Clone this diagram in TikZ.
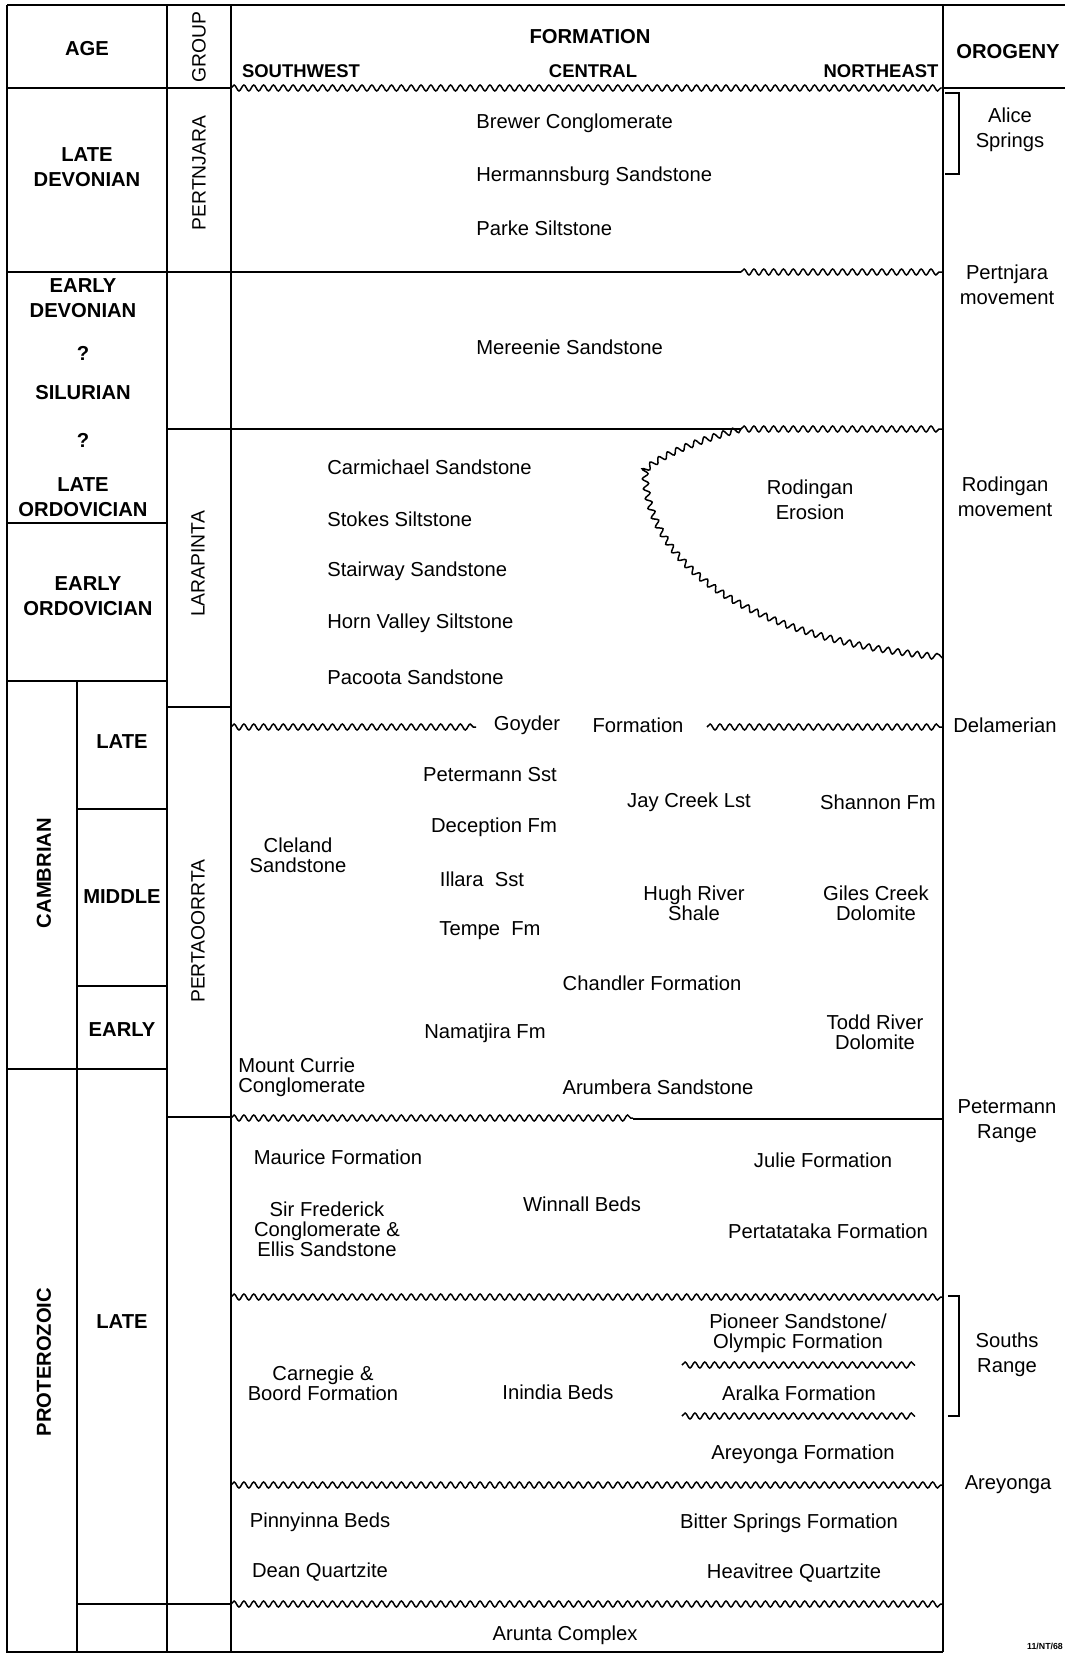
\documentclass[tikz,border=0pt]{standalone}
\usepackage{fontspec}
\setmainfont{Liberation Sans}
\usetikzlibrary{decorations.pathmorphing}

\tikzset{
  rule/.style={line width=1.1pt},
  wave/.style={line width=0.85pt, decorate,
    decoration={snake, amplitude=1.7pt, segment length=5.6pt}},
  fm/.style={font=\fontsize{11.5}{11.5}\selectfont, align=center, inner sep=0pt},
  hd/.style={font=\fontsize{11.5}{14.5}\selectfont\bfseries, align=center, inner sep=0pt},
  sub/.style={font=\fontsize{10.5}{12}\selectfont\bfseries, inner sep=0pt},
  oro/.style={font=\fontsize{11.5}{14.5}\selectfont, align=center, inner sep=0pt},
  grp/.style={font=\fontsize{11}{13}\selectfont, rotate=90, inner sep=0pt},
  bracket/.style={line width=0.9pt},
}

\begin{document}
\begin{tikzpicture}[x=0.02cm, y=-0.02cm]
  \useasboundingbox (0,0) rectangle (1065,1653);
  % frame and columns
  \draw[rule] (7,5) -- (1065,5);
  \draw[rule] (7,5) -- (7,1652) -- (943,1652);
  \draw[rule] (167,5) -- (167,1652);
  \draw[rule] (231,5) -- (231,1652);
  \draw[rule] (943,5) -- (943,1652);
  \draw[rule] (77,681) -- (77,1652);
  % header
  \draw[rule] (7,88) -- (231,88);
  \draw[wave] (231,88) -- (943,88);
  \draw[rule] (943,88) -- (1065,88);
  \node[hd] (age) at (87,49) {AGE};
  \node[grp] (grouphd) at (199,47) {GROUP};
  \node[hd] (formhd) at (590,37) {FORMATION};
  \node[sub] (sw) at (301,71) {SOUTHWEST};
  \node[sub] (central) at (593,71) {CENTRAL};
  \node[sub] (ne) at (881,71) {NORTHEAST};
  \node[hd] (orohd) at (1008,52) {OROGENY};
  % age boundaries
  \draw[rule] (7,272) -- (741,272);
  \draw[wave] (741,272) -- (943,272);
  \draw[rule] (167,429) -- (741,429);
  \draw[wave] (741,429) -- (943,429);
  \draw[wave] (741,429) .. controls (700,440) and (660,455) .. (645,472)
    .. controls (645,560) and (740,640) .. (943,658);
  \draw[rule] (7,523) -- (167,523);
  \draw[rule] (7,681) -- (167,681);
  \draw[rule] (167,707) -- (231,707);
  \draw[wave] (231,727) -- (476,727);
  \draw[wave] (707,727) -- (943,727);
  \draw[rule] (77,809) -- (167,809);
  \draw[rule] (77,986) -- (167,986);
  \draw[rule] (7,1069) -- (167,1069);
  \draw[rule] (167,1117) -- (231,1117);
  \draw[wave] (231,1118) -- (633,1118);
  \draw[rule] (633,1119) -- (943,1119);
  \draw[wave] (231,1297) -- (943,1297);
  \draw[wave] (682,1365) -- (915,1365);
  \draw[wave] (682,1416) -- (915,1416);
  \draw[wave] (231,1485) -- (943,1485);
  \draw[rule] (77,1604) -- (231,1604);
  \draw[wave] (231,1604) -- (943,1604);
  % brackets
  \draw[bracket] (945,93) -- (959,93) -- (959,174) -- (945,174);
  \draw[bracket] (948,1296) -- (959,1296) -- (959,1416) -- (948,1416);

  % age column
  \node[hd] (latedev) at (87,167) {LATE\\DEVONIAN};
  \node[hd] (earlydev) at (83,298) {EARLY\\DEVONIAN};
  \node[hd] (qa) at (83,353) {?};
  \node[hd] (silurian) at (83,393) {SILURIAN};
  \node[hd] (qb) at (83,440) {?};
  \node[hd] (lateord) at (83,497) {LATE\\ORDOVICIAN};
  \node[hd] (earlyord) at (88,596) {EARLY\\ORDOVICIAN};
  \node[hd, rotate=90] (cambrian) at (44,873) {CAMBRIAN};
  \node[hd] (latecam) at (122,742) {LATE};
  \node[hd] (midcam) at (122,897) {MIDDLE};
  \node[hd] (earlycam) at (122,1030) {EARLY};
  \node[hd, rotate=90] (proter) at (44,1362) {PROTEROZOIC};
  \node[hd] (lateprot) at (122,1322) {LATE};

  % group column
  \node[grp] (pertnjara) at (199,173) {PERTNJARA};
  \node[grp] (larapinta) at (198,564) {LARAPINTA};
  \node[grp] (pertaoorrta) at (198,931) {PERTAOORRTA};

  % formations
  \node[fm, anchor=west] (brewer) at (476,123) {Brewer Conglomerate};
  \node[fm, anchor=west] (hermann) at (476,176) {Hermannsburg Sandstone};
  \node[fm, anchor=west] (parke) at (476,228) {Parke Siltstone};
  \node[fm, anchor=west] (mereenie) at (476,347) {Mereenie Sandstone};
  \node[fm, anchor=west] (carmichael) at (327,467) {Carmichael Sandstone};
  \node[fm, anchor=west] (stokes) at (327,519) {Stokes Siltstone};
  \node[fm, anchor=west] (stairway) at (327,571) {Stairway Sandstone};
  \node[fm, anchor=west] (hornvalley) at (327,623) {Horn Valley Siltstone};
  \node[fm, anchor=west] (pacoota) at (327,677) {Pacoota Sandstone};
  \node[oro] (rodero) at (810,500) {Rodingan\\Erosion};
  \node[fm] (goyder) at (527,725) {Goyder};
  \node[fm] (goyderfm) at (638,725) {Formation};
  \node[fm] (petsst) at (490,775) {Petermann Sst};
  \node[fm] (jaycreek) at (689,802) {Jay Creek Lst};
  \node[fm] (shannon) at (878,802) {Shannon Fm};
  \node[fm] (deception) at (494,827) {Deception Fm};
  \node[fm] (cleland) at (298,855) {Cleland\\Sandstone};
  \node[fm] (illara) at (482,879) {Illara~~Sst};
  \node[fm] (hughriver) at (694,903) {Hugh River\\Shale};
  \node[fm] (gilescreek) at (876,903) {Giles Creek\\Dolomite};
  \node[fm] (tempe) at (490,931) {Tempe~~Fm};
  \node[fm] (chandler) at (652,983) {Chandler Formation};
  \node[fm] (namatjira) at (485,1033) {Namatjira Fm};
  \node[fm] (toddriver) at (875,1032) {Todd River\\Dolomite};
  \node[fm, anchor=west, align=left] (mtcurrie) at (238,1077) {Mount Currie\\Conglomerate};
  \node[fm] (arumbera) at (658,1087) {Arumbera Sandstone};
  \node[fm] (maurice) at (338,1157) {Maurice Formation};
  \node[fm] (julie) at (823,1160) {Julie Formation};
  \node[fm] (winnall) at (582,1204) {Winnall Beds};
  \node[fm] (sirfred) at (327,1229) {Sir Frederick\\Conglomerate \&\\Ellis Sandstone};
  \node[fm] (pertatataka) at (828,1231) {Pertatataka Formation};
  \node[fm] (pioneer) at (798,1333) {Pioneer Sandstone/\\Olympic Formation};
  \node[fm] (carnegie) at (323,1383) {Carnegie \&\\Boord Formation};
  \node[fm] (inindia) at (558,1392) {Inindia Beds};
  \node[fm] (aralka) at (799,1393) {Aralka Formation};
  \node[fm] (areyongafm) at (803,1454) {Areyonga Formation};
  \node[fm] (pinnyinna) at (320,1522) {Pinnyinna Beds};
  \node[fm] (bitter) at (789,1523) {Bitter Springs Formation};
  \node[fm] (dean) at (320,1572) {Dean Quartzite};
  \node[fm] (heavitree) at (794,1573) {Heavitree Quartzite};
  \node[fm] (arunta) at (565,1635) {Arunta Complex};

  % orogeny column
  \node[oro] (alice) at (1010,130) {Alice\\Springs};
  \node[oro] (pertmove) at (1007,285) {Pertnjara\\movement};
  \node[oro] (rodmove) at (1005,497) {Rodingan\\movement};
  \node[oro] (delamerian) at (1005,725) {Delamerian};
  \node[oro] (petrange) at (1007,1121) {Petermann\\Range};
  \node[oro] (souths) at (1007,1355) {Souths\\Range};
  \node[oro] (areyonga) at (1008,1485) {Areyonga};
  \node[font=\fontsize{5}{6}\selectfont\bfseries, inner sep=0pt] (ref) at (1045,1646) {11/NT/68};
\end{tikzpicture}
\end{document}
